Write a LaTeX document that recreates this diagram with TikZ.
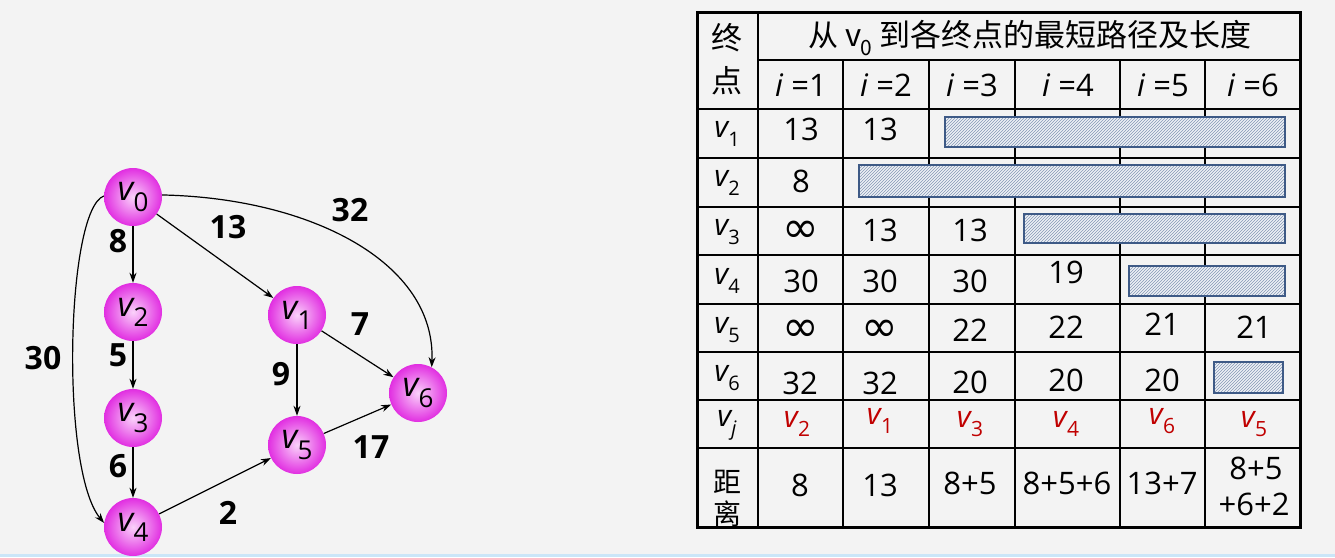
\documentclass[tikz,border=0pt]{standalone}
\usepackage{fontspec}
\setmainfont{Open Sans}
\newfontfamily\cjk{Noto Sans CJK SC}
\newfontfamily\djv{DejaVu Sans}
\usetikzlibrary{patterns,arrows.meta}
\definecolor{bg}{HTML}{F3F3F3}
\definecolor{bottomblue}{HTML}{CBE6F8}
\definecolor{nodein}{HTML}{FAD2FA}
\definecolor{nodeout}{HTML}{E12EE1}
\definecolor{hatch}{HTML}{8497B5}
\definecolor{barfill}{HTML}{EEF1F6}
\definecolor{barline}{HTML}{3E5A86}
\definecolor{vred}{HTML}{C00000}
\newcommand\vlab[3]{\fontsize{#1}{#1}\selectfont\textit{v}\kern-0.04em\raisebox{-0.3em}{\fontsize{#2}{#2}\selectfont #3}}
\newcommand\infsym{{\djv\fontsize{44}{44}\selectfont ∞}}
\tikzset{
  vert/.style={circle, minimum size=58pt, inner sep=0pt, inner color=nodein, outer color=nodeout},
  edge/.style={-{Stealth[length=10pt,width=7pt]}, line width=1.2pt, black},
  elab/.style={font=\fontsize{32}{32}\selectfont\bfseries, inner sep=0pt},
  cell/.style={font=\fontsize{31}{32}\selectfont, inner sep=0pt},
  zh/.style={font=\cjk\fontsize{31}{32}\selectfont, inner sep=0pt},
  zhs/.style={font=\cjk\fontsize{28}{28}\selectfont, inner sep=0pt},
  bar/.style={preaction={fill=barfill}, pattern=north east lines, pattern color=hatch, draw=barline, line width=2.4pt},
  inner/.style={line width=1.6pt, black},
  outer/.style={line width=3pt, black}
}
\begin{document}
\begin{tikzpicture}[x=1pt,y=-1pt]
\fill[bg] (0,0) rectangle (1335,557);
\useasboundingbox (0,0) rectangle (1335,557);
\fill[bottomblue] (0,554) rectangle (1335,557);

% ---------- graph ----------
\node[vert] (v0) at (133,197) {\vlab{34}{26}{0}};
\node[vert] (v2) at (133,312) {\vlab{34}{26}{2}};
\node[vert] (v3) at (133,418) {\vlab{34}{26}{3}};
\node[vert] (v4) at (133,527) {\vlab{34}{26}{4}};
\node[vert] (v1) at (297,315) {\vlab{34}{26}{1}};
\node[vert] (v5) at (297,445) {\vlab{34}{26}{5}};
\node[vert] (v6) at (418,393) {\vlab{34}{26}{6}};

\draw[edge] (v0) -- (v2);
\draw[edge] (v2) -- (v3);
\draw[edge] (v3) -- (v4);
\draw[edge] (v0) -- (v1);
\draw[edge] (v1) -- (v5);
\draw[edge] (v1) -- (v6);
\draw[edge] (v5) -- (v6);
\draw[edge] (v4) -- (v5);
\draw[edge] (v0.4) .. controls (310,198) and (436,262) .. (v6.62);
\draw[edge] (v0.178) .. controls (66,210) and (60,470) .. (v4.172);

\node[elab] (l8) at (118,241) {8};
\node[elab] (l13) at (228,227) {13};
\node[elab] (l32) at (350,210) {32};
\node[elab] (l30) at (43,358) {30};
\node[elab] (l5) at (118,355) {5};
\node[elab] (l7) at (360,324) {7};
\node[elab] (l9) at (281,374) {9};
\node[elab] (l6) at (118,466) {6};
\node[elab] (l17) at (371,447) {17};
\node[elab] (l2) at (228,513) {2};

% ---------- table ----------
\foreach \y in {109,158,207,255,304,352,400,448} \draw[inner] (697,\y) -- (1300,\y);
\draw[inner] (758,60) -- (1300,60);
\draw[inner] (758,12) -- (758,527);
\foreach \x in {843,929,1015,1120,1205} \draw[inner] (\x,60) -- (\x,527);
\draw[outer] (697,12) rectangle (1300,527);

\draw[bar] (945,117) rectangle (1285,147);
\draw[bar] (859,165) rectangle (1285,197);
\draw[bar] (1024,214) rectangle (1285,243);
\draw[bar] (1129,266) rectangle (1285,296);
\draw[bar] (1214,362) rectangle (1283,393);

\node[zh] (hz1) at (727,38) {终};
\node[zh] (hz2) at (727,81) {点};
\node[zh, font=\cjk\fontsize{30}{32}\selectfont] (htitle) at (1030,38) {从 \vlab{31}{21}{0} 到各终点的最短路径及长度};

\node[cell] (i1) at (801,85) {\textit{i} =1};
\node[cell] (i2) at (886,85) {\textit{i} =2};
\node[cell] (i3) at (972,85) {\textit{i} =3};
\node[cell] (i4) at (1068,85) {\textit{i} =4};
\node[cell] (i5) at (1163,85) {\textit{i} =5};
\node[cell] (i6) at (1253,85) {\textit{i} =6};

\node[cell] (r1) at (727,134) {\vlab{30}{20}{1}};
\node[cell] (r2) at (727,183) {\vlab{30}{20}{2}};
\node[cell] (r3) at (727,232) {\vlab{30}{20}{3}};
\node[cell] (r4) at (727,281) {\vlab{30}{20}{4}};
\node[cell] (r5) at (727,330) {\vlab{30}{20}{5}};
\node[cell] (r6) at (727,378) {\vlab{30}{20}{6}};
\node[cell] (rj) at (727,425) {\vlab{30}{20}{\textit{j}}};
\node[zhs] (d1) at (727,482) {距};
\node[zhs] (d2) at (727,514) {离};

\node[cell] (a11) at (801,129) {13};
\node[cell] (a12) at (880,129) {13};
\node[cell] (a21) at (801,181) {8};
\node[cell] (a31) at (801,232) {\infsym};
\node[cell] (a32) at (880,230) {13};
\node[cell] (a33) at (970,230) {13};
\node[cell] (a41) at (801,281) {30};
\node[cell] (a42) at (880,281) {30};
\node[cell] (a43) at (970,281) {30};
\node[cell] (a44) at (1066,272) {19};
\node[cell] (a51) at (801,331) {\infsym};
\node[cell] (a52) at (880,331) {\infsym};
\node[cell] (a53) at (970,330) {22};
\node[cell] (a54) at (1066,327) {22};
\node[cell] (a55) at (1162,324) {21};
\node[cell] (a56) at (1254,327) {21};
\node[cell] (a61) at (800,383) {32};
\node[cell] (a62) at (880,383) {32};
\node[cell] (a63) at (970,382) {20};
\node[cell] (a64) at (1066,380) {20};
\node[cell] (a65) at (1162,380) {20};

\node[cell, text=vred] (j1) at (797,424) {\vlab{30}{21}{2}};
\node[cell, text=vred] (j2) at (880,421) {\vlab{30}{21}{1}};
\node[cell, text=vred] (j3) at (970,424) {\vlab{30}{21}{3}};
\node[cell, text=vred] (j4) at (1066,424) {\vlab{30}{21}{4}};
\node[cell, text=vred] (j5) at (1162,421) {\vlab{30}{21}{6}};
\node[cell, text=vred] (j6) at (1254,424) {\vlab{30}{21}{5}};

\node[cell] (b1) at (800,485) {8};
\node[cell] (b2) at (880,485) {13};
\node[cell] (b3) at (970,483) {8+5};
\node[cell] (b4) at (1067,483) {8+5+6};
\node[cell] (b5) at (1162,483) {13+7};
\node[cell] (b6a) at (1256,468) {8+5};
\node[cell] (b6b) at (1254,504) {+6+2};
\end{tikzpicture}
\end{document}
